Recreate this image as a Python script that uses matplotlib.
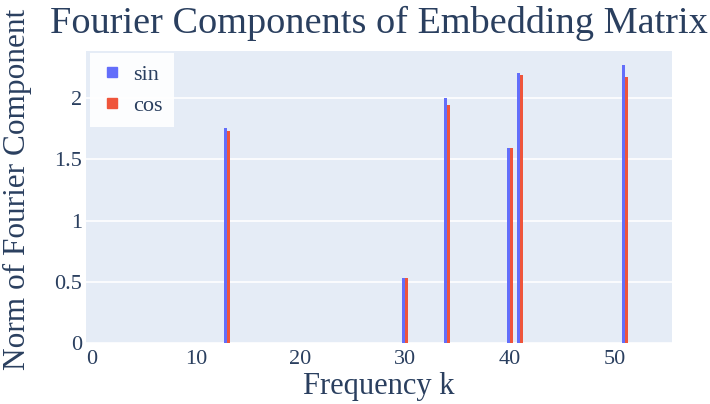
import numpy as np
import matplotlib
matplotlib.use('Agg')
from matplotlib import pyplot as plt
from matplotlib.lines import Line2D

# frequencies 0..55, only a handful are non-zero
freqs = np.arange(0, 56)
key_freqs = [13, 30, 34, 40, 41, 51]
key_sin = [1.76, 0.53, 2.00, 1.595, 2.205, 2.27]
key_cos = [1.735, 0.535, 1.945, 1.59, 2.19, 2.175]

y_ticks = [0, 0.5, 1, 1.5, 2]
y_tick_labels = ['0', '0.5', '1', '1.5', '2']
x_ticks = [0, 10, 20, 30, 40, 50]

sin_vals = np.zeros(len(freqs))
cos_vals = np.zeros(len(freqs))
for k, s, c in zip(key_freqs, key_sin, key_cos):
    sin_vals[k] = s
    cos_vals[k] = c

plt.rcParams['font.family'] = ['Liberation Serif', 'DejaVu Serif']
txt = '#2a3f5f'
c_sin = '#636efa'
c_cos = '#ef553b'

fig = plt.figure(figsize=(7.1, 4.04), dpi=100)
ax = fig.add_axes([86 / 710, 61 / 404, 586 / 710, 292 / 404])
ax.set_facecolor('#e5ecf6')
for s in ax.spines.values():
    s.set_visible(False)

bw = 0.29
ax.bar(freqs - bw / 2, sin_vals, width=bw, color=c_sin, zorder=3)
ax.bar(freqs + bw / 2, cos_vals, width=bw, color=c_cos, zorder=3)

ax.set_xlim(-0.5, 55.5)
ax.set_ylim(0, 2.386)
ax.set_yticks(y_ticks)
ax.set_yticklabels(y_tick_labels)
ax.set_xticks(x_ticks)
ax.grid(axis='y', color='white', linewidth=1.2, zorder=0)
ax.tick_params(length=0, labelsize=16, colors=txt)
ax.tick_params(axis='y', pad=3)
ax.tick_params(axis='x', pad=5)

ax.set_xlabel('Frequency k', fontsize=22, color=txt, labelpad=2)
ax.set_ylabel('Norm of Fourier Component', fontsize=22.5, color=txt)
ax.yaxis.set_label_coords(-0.092, 0.525)
fig.text(378.5 / 710, 1 - 23 / 404, 'Fourier Components of Embedding Matrix',
         fontsize=27.5, color=txt, ha='center', va='center')

handles = [Line2D([], [], marker='s', linestyle='none', markersize=7, color=c_sin),
           Line2D([], [], marker='s', linestyle='none', markersize=7, color=c_cos)]
leg = ax.legend(handles, ['sin', 'cos'], loc='upper left', bbox_to_anchor=(0.007, 0.993),
                borderaxespad=0, fontsize=16, frameon=True, facecolor='white',
                edgecolor='none', framealpha=0.9, fancybox=False, handlelength=0.95,
                handletextpad=0.48, labelspacing=0.45, borderpad=0.52, labelcolor=txt)

fig.savefig('out.png', dpi=100)
